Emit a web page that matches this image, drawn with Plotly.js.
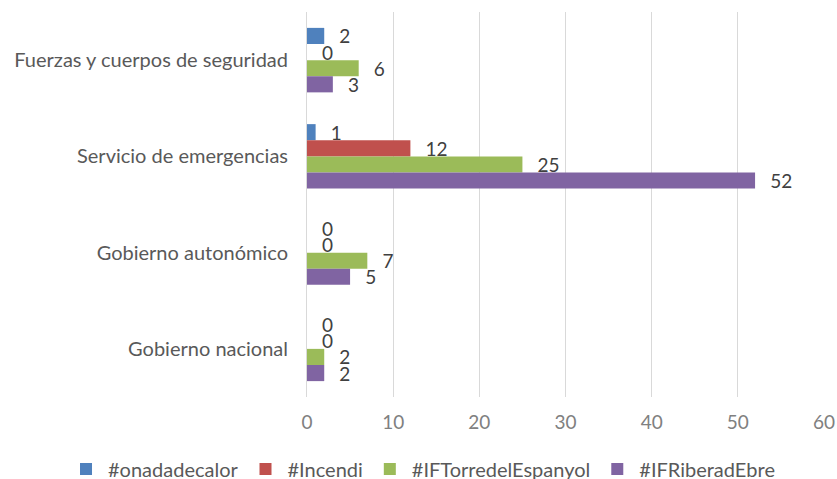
<!DOCTYPE html>
<html><head><meta charset="utf-8">
<script src="https://cdn.plot.ly/plotly-3.0.1.min.js"></script>
<style>html,body{margin:0;padding:0;background:#fff}#c{width:837px;height:479px}</style>
</head><body><div id="c"></div>
<script>
const categories = ["Fuerzas y cuerpos de seguridad", "Servicio de emergencias", "Gobierno autonómico", "Gobierno nacional"];
const seriesNames = ["#onadadecalor", "#Incendi", "#IFTorredelEspanyol", "#IFRiberadEbre"];
const onadadecalor = [2, 1, 0, 0];
const incendi = [0, 12, 0, 0];
const torre = [6, 25, 7, 2];
const ribera = [3, 52, 5, 2];
const xTicks = [0, 10, 20, 30, 40, 50, 60];
const colors = ["#4f81bd", "#c0504d", "#9bbb59", "#8064a2"];
const allValues = [onadadecalor, incendi, torre, ribera];

const font = "Lato, sans-serif";
const traces = allValues.map((vals, i) => ({
  type: "bar", orientation: "h", name: seriesNames[i],
  y: categories, x: vals,
  marker: {color: colors[i]},
  text: vals.map(v => "\u00a0\u00a0\u2009" + v),
  textposition: "outside", constraintext: "none", cliponaxis: false,
  textfont: {family: font, size: 19, color: "#404040"},
  hoverinfo: "x+name"
}));

const layout = {
  width: 837, height: 479,
  margin: {l: 307, r: 13, t: 12, b: 82, autoexpand: false},
  barmode: "group", bargap: 0.33, bargroupgap: 0,
  paper_bgcolor: "#fff", plot_bgcolor: "#fff",
  font: {family: font, color: "#595959", size: 19},
  xaxis: {range: [0, 60], tickvals: xTicks, showgrid: true, gridcolor: "#d9d9d9",
          zeroline: false, showline: false, ticks: "", ticklabelstandoff: 12,
          tickfont: {size: 19, color: "#808080"}},
  yaxis: {autorange: "reversed", type: "category", showline: true, linecolor: "#d9d9d9",
          ticks: "", ticklabelstandoff: 14, tickfont: {size: 20, color: "#595959"}, showgrid: false},
  legend: {orientation: "h", x: -0.470, xanchor: "left",
           y: -0.187, yanchor: "middle",
           font: {size: 20, color: "#595959"}, traceorder: "normal", itemwidth: 34},
  showlegend: true
};
Plotly.newPlot("c", traces, layout, {displayModeBar: false});
</script></body></html>
